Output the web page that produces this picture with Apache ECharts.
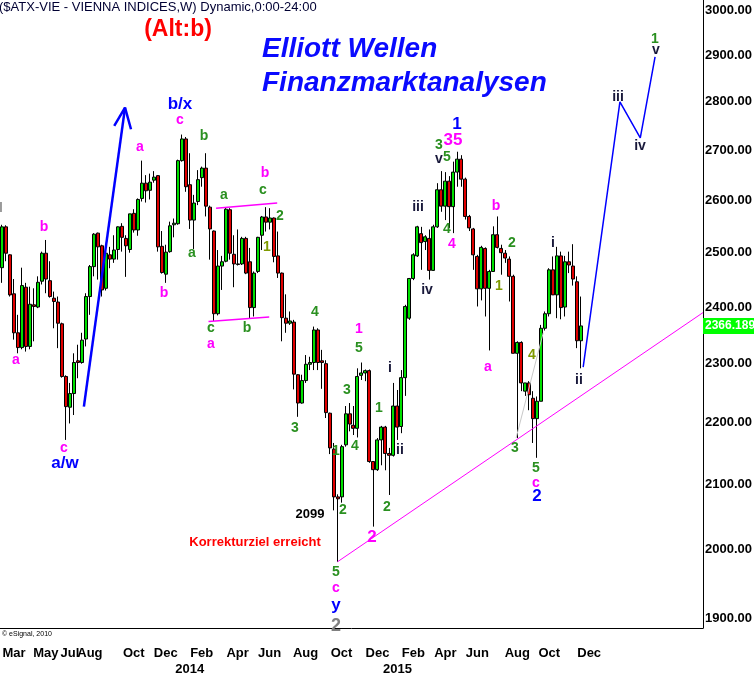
<!DOCTYPE html>
<html>
<head>
<meta charset="utf-8">
<script src="https://cdn.jsdelivr.net/npm/echarts@6/dist/echarts.min.js"></script>
<style>
  html, body { margin: 0; padding: 0; background: #fff; }
  #chart { width: 754px; height: 674px; }
</style>
</head>
<body>
<div id="chart"></div>
<script>
// weekly bars (Friday), first week 2013-02-15, blank weeks on the right for the projection
const weekCount = 176;
const firstWeek = new Date(Date.UTC(2013, 1, 15));
const weeks = [];
for (let i = 0; i < weekCount; i++) {
  const d = new Date(firstWeek.getTime() + i * 7 * 86400000);
  weeks.push(d.toISOString().slice(0, 10));
}

const opens = [
  2472, 2549, 2496, 2424, 2354, 2328, 2436, 2330, 2404, 2400, 2447, 2499, 2448, 2416, 2409, 2370,
  2278, 2226, 2249, 2305, 2302, 2343, 2419, 2474, 2537, 2513, 2434, 2496, 2488, 2506, 2550, 2527,
  2506, 2575, 2543, 2604, 2634, 2620, 2640, 2649, 2512, 2460, 2502, 2553, 2555, 2679, 2723, 2631,
  2562, 2598, 2645, 2664, 2587, 2541, 2388, 2475, 2484, 2582, 2497, 2479, 2479, 2527, 2483, 2399,
  2465, 2533, 2568, 2558, 2566, 2494, 2462, 2380, 2371, 2373, 2281, 2233, 2271, 2299, 2302, 2359,
  2305, 2300, 2216, 2157, 2081, 2081, 2164, 2215, 2196, 2191, 2280, 2284, 2288, 2137, 2124, 2172,
  2193, 2150, 2147, 2228, 2194, 2276, 2380, 2452, 2494, 2536, 2521, 2527, 2467, 2549, 2621, 2589,
  2638, 2588, 2656, 2682, 2642, 2569, 2545, 2493, 2433, 2508, 2434, 2465, 2534, 2508, 2499, 2488,
  2456, 2318, 2337, 2253, 2267, 2241, 2207, 2236, 2362, 2388, 2468, 2422, 2494, 2400, 2483, 2475,
  2446, 2340
];
const closes = [
  2549, 2499, 2422, 2354, 2328, 2439, 2330, 2405, 2401, 2445, 2499, 2451, 2419, 2410, 2371, 2278,
  2227, 2249, 2302, 2302, 2341, 2419, 2474, 2535, 2511, 2431, 2499, 2488, 2505, 2549, 2529, 2513,
  2574, 2543, 2602, 2634, 2619, 2636, 2646, 2511, 2463, 2501, 2551, 2556, 2679, 2723, 2627, 2562,
  2595, 2641, 2664, 2589, 2545, 2388, 2475, 2483, 2583, 2499, 2479, 2478, 2527, 2462, 2399, 2462,
  2529, 2568, 2558, 2566, 2493, 2462, 2381, 2371, 2375, 2282, 2233, 2271, 2299, 2302, 2359, 2302,
  2302, 2217, 2159, 2081, 2078, 2161, 2215, 2198, 2191, 2278, 2284, 2288, 2137, 2124, 2172, 2193,
  2150, 2147, 2228, 2193, 2276, 2401, 2452, 2496, 2549, 2519, 2530, 2467, 2549, 2621, 2589, 2638,
  2588, 2656, 2682, 2642, 2569, 2547, 2496, 2433, 2510, 2434, 2465, 2534, 2510, 2500, 2490, 2456,
  2318, 2337, 2267, 2267, 2247, 2207, 2236, 2362, 2388, 2468, 2422, 2494, 2399, 2483, 2477, 2451,
  2340, 2366.189
];
const lows = [
  2444, 2484, 2419, 2342, 2318, 2325, 2321, 2325, 2339, 2398, 2441, 2425, 2417, 2362, 2327, 2276,
  2172, 2199, 2213, 2275, 2300, 2330, 2386, 2456, 2450, 2419, 2430, 2471, 2481, 2487, 2502, 2455,
  2500, 2538, 2532, 2598, 2596, 2602, 2635, 2502, 2461, 2444, 2500, 2529, 2553, 2677, 2617, 2545,
  2507, 2591, 2627, 2569, 2487, 2375, 2385, 2431, 2482, 2487, 2436, 2476, 2477, 2460, 2379, 2383,
  2462, 2505, 2540, 2544, 2482, 2453, 2339, 2354, 2368, 2256, 2210, 2232, 2267, 2289, 2289, 2289,
  2257, 2208, 2149, 2060, 1982, 2072, 2161, 2186, 2180, 2176, 2272, 2270, 2135, 2035, 2122, 2131,
  2123, 2084, 2145, 2172, 2183, 2245, 2377, 2449, 2492, 2468, 2505, 2450, 2466, 2547, 2578, 2562,
  2547, 2537, 2627, 2627, 2563, 2541, 2468, 2401, 2412, 2383, 2323, 2465, 2508, 2459, 2481, 2410,
  2318, 2175, 2253, 2245, 2221, 2167, 2143, 2236, 2358, 2383, 2422, 2380, 2378, 2383, 2462, 2439,
  2327, 2292
];
const highs = [
  2553, 2552, 2497, 2451, 2386, 2472, 2444, 2437, 2434, 2456, 2502, 2524, 2484, 2428, 2419, 2372,
  2280, 2267, 2318, 2333, 2354, 2425, 2477, 2537, 2538, 2515, 2505, 2511, 2533, 2550, 2556, 2533,
  2574, 2583, 2604, 2679, 2650, 2653, 2658, 2650, 2541, 2515, 2559, 2565, 2681, 2732, 2727, 2694,
  2611, 2660, 2667, 2694, 2590, 2542, 2505, 2494, 2587, 2585, 2533, 2544, 2530, 2530, 2509, 2465,
  2530, 2570, 2587, 2585, 2567, 2540, 2463, 2423, 2392, 2377, 2282, 2281, 2315, 2312, 2365, 2362,
  2324, 2306, 2217, 2167, 2085, 2164, 2228, 2233, 2228, 2292, 2302, 2290, 2290, 2137, 2175, 2195,
  2195, 2159, 2267, 2255, 2289, 2404, 2453, 2499, 2551, 2549, 2533, 2544, 2553, 2634, 2658, 2656,
  2648, 2677, 2697, 2690, 2645, 2572, 2547, 2496, 2513, 2510, 2468, 2550, 2569, 2515, 2505, 2493,
  2459, 2339, 2339, 2267, 2270, 2253, 2244, 2368, 2392, 2471, 2493, 2511, 2502, 2494, 2502, 2516,
  2456, 2419
];

const priceTicks = [1900, 2000, 2100, 2200, 2300, 2400, 2500, 2600, 2700, 2800, 2900, 3000];
const monthTicks = [
  [3, 'Mar'], [11, 'May'], [17, 'Jul'], [22, 'Aug'], [33, 'Oct'], [41, 'Dec'], [50, 'Feb'],
  [59, 'Apr'], [67, 'Jun'], [76, 'Aug'], [85, 'Oct'], [94, 'Dec'], [103, 'Feb'], [111, 'Apr'],
  [119, 'Jun'], [129, 'Aug'], [137, 'Oct'], [147, 'Dec']
];
const yearTicks = [[47, '2014'], [99, '2015']];

// drawn lines, [week index, price]
const supportLine = [[84, 1982], [175.5, 2390]];
const projection = [[145.5, 2294], [154.7, 2800], [159.8, 2725], [163.5, 2896]];
const arrowShaft = [[20.5, 2227], [30.8, 2788]];
const arrowHead = [[28.1, 2750], [30.8, 2788], [32.3, 2743]];
const flagTop = [[53.6, 2585], [68.9, 2595]];
const flagBottom = [[51.7, 2374], [66.9, 2382]];
const greyLine = [[128.7, 2175], [135.5, 2354]];

const lastPrice = 2366.189;

const lg = v => Math.log10(v);
const monthMap = Object.fromEntries(monthTicks);
const yearMap = Object.fromEntries(yearTicks);

const candles = weeks.map((w, i) =>
  i < opens.length ? [lg(opens[i]), lg(closes[i]), lg(lows[i]), lg(highs[i])] : '-'
);
const toLog = pts => pts.map(p => [p[0], lg(p[1])]);

const FONT = 'Liberation Sans, Arial, sans-serif';

// wave labels
const M = '#ff00ff', G = '#2a9020', O = '#7f9a00', K = '#18183a', B = '#0000ff';
const waveLabels = [
  ['I', 1, 208, '#9a9a9a', 14],
  ['b', 44, 227, M, 14], ['a', 16, 360, M, 14], ['c', 64, 448, M, 14], ['a/w', 65, 463, B, 17],
  ['a', 140, 147, M, 14], ['b/x', 180, 104, B, 17], ['c', 180, 120, M, 14], ['b', 204, 136, G, 14],
  ['b', 164, 293, M, 14], ['a', 192, 253, G, 14], ['a', 224, 195, G, 14],
  ['b', 265, 173, M, 14], ['c', 263, 190, G, 14], ['2', 280, 216, G, 14], ['1', 267, 247, O, 14],
  ['c', 211, 328, G, 14], ['a', 211, 344, M, 14], ['b', 247, 328, G, 14],
  ['4', 315, 312, G, 14], ['3', 295, 428, G, 14], ['1', 359, 329, M, 14], ['5', 359, 348, G, 14],
  ['3', 347, 390, G, 14], ['4', 355, 446, G, 14], ['1', 336, 451, G, 14], ['2', 343, 510, G, 14],
  ['2099', 310, 514, '#000000', 13],
  ['1', 379, 408, G, 14], ['i', 390, 368, K, 14], ['ii', 400, 450, K, 14], ['2', 387, 507, G, 14],
  ['2', 372, 537, M, 17],
  ['iv', 427, 290, K, 14], ['iii', 418, 207, K, 14],
  ['3', 439, 145, G, 14], ['v', 439, 159, K, 14], ['5', 447, 157, G, 14], ['35', 453, 140, M, 17],
  ['1', 457, 124, B, 17], ['4', 447, 229, G, 14], ['4', 452, 244, M, 14],
  ['b', 496, 206, M, 14], ['2', 512, 243, G, 14], ['1', 499, 286, O, 14], ['a', 488, 367, M, 14],
  ['4', 532, 355, O, 14], ['3', 515, 448, G, 14], ['5', 536, 468, G, 14], ['c', 536, 483, M, 14],
  ['2', 537, 496, B, 17], ['i', 553, 243, K, 14], ['ii', 579, 380, K, 14],
  ['iii', 618, 97, K, 14], ['iv', 640, 146, K, 14], ['1', 655, 39, G, 14], ['v', 656, 50, K, 14],
  ['5', 336, 572, G, 14], ['c', 336, 588, M, 14], ['y', 336, 605, B, 17], ['2', 336, 626, '#808080', 18]
];

const graphics = waveLabels.map(l => ({
  type: 'text', x: l[1], y: l[2], z: 50,
  style: {
    text: l[0], fill: l[3], fontSize: l[4], fontWeight: 'bold', fontFamily: FONT,
    align: 'center', verticalAlign: 'middle'
  }
}));
graphics.push(
  { type: 'text', x: -1, y: 7, z: 50,
    style: { text: '($ATX-VIE - VIENNA INDICES,W) Dynamic,0:00-24:00', fill: '#000033',
      fontSize: 13, fontFamily: FONT, verticalAlign: 'middle' } },
  { type: 'text', x: 178, y: 30, z: 50,
    style: { text: '(Alt:b)', fill: '#ff0000', fontSize: 23, fontWeight: 'bold', fontFamily: FONT,
      align: 'center', verticalAlign: 'middle' } },
  { type: 'text', x: 262, y: 49, z: 50,
    style: { text: 'Elliott Wellen', fill: '#0a0aff', fontSize: 28, fontWeight: 'bold',
      fontStyle: 'italic', fontFamily: FONT, verticalAlign: 'middle' } },
  { type: 'text', x: 262, y: 83, z: 50,
    style: { text: 'Finanzmarktanalysen', fill: '#0a0aff', fontSize: 28, fontWeight: 'bold',
      fontStyle: 'italic', fontFamily: FONT, verticalAlign: 'middle' } },
  { type: 'text', x: 255, y: 542, z: 50,
    style: { text: 'Korrekturziel erreicht', fill: '#ff0000', fontSize: 13, fontWeight: 'bold',
      fontFamily: FONT, align: 'center', verticalAlign: 'middle' } },
  { type: 'text', x: 2, y: 634, z: 50,
    style: { text: '© eSignal, 2010', fill: '#000', fontSize: 7, fontFamily: FONT,
      verticalAlign: 'middle' } },
  { type: 'rect', x: 703, y: 318, z: 50, shape: { width: 51, height: 16 },
    style: { fill: '#00ff00' } },
  { type: 'text', x: 705, y: 326, z: 51,
    style: { text: lastPrice.toFixed(3), fill: '#ffffff', fontSize: 12, fontWeight: 'bold',
      fontFamily: FONT, verticalAlign: 'middle' } }
);

function overlay(pts, color, width) {
  return {
    type: 'line', xAxisIndex: 2, data: toLog(pts), symbol: 'none', silent: true,
    lineStyle: { color: color, width: width }, z: 10, animation: false
  };
}

const chart = echarts.init(document.getElementById('chart'));
chart.setOption({
  animation: false,
  backgroundColor: '#ffffff',
  grid: { left: 0, right: 51, top: 0, bottom: 46, outerBoundsMode: 'none', containLabel: false },
  xAxis: [
    {
      type: 'category', data: weeks, boundaryGap: true,
      axisLine: { onZero: false, lineStyle: { color: '#000', width: 1 } },
      axisTick: { show: false },
      splitLine: { show: false },
      axisLabel: {
        interval: idx => monthMap[idx] !== undefined,
        formatter: (v, idx) => monthMap[idx] || '',
        color: '#000', fontSize: 13, fontWeight: 'bold', fontFamily: FONT, margin: 19
      }
    },
    {
      type: 'category', data: weeks, boundaryGap: true, position: 'bottom', offset: 16,
      axisLine: { show: false }, axisTick: { show: false }, splitLine: { show: false },
      axisLabel: {
        interval: idx => yearMap[idx] !== undefined,
        formatter: (v, idx) => yearMap[idx] || '',
        color: '#000', fontSize: 13, fontWeight: 'bold', fontFamily: FONT, margin: 19
      }
    },
    { type: 'value', min: -0.5, max: weekCount - 0.5, show: false }
  ],
  yAxis: {
    type: 'value', position: 'right',
    min: lg(1885.8), max: lg(3022.6),
    axisLine: { show: true, onZero: false, lineStyle: { color: '#000', width: 1 } },
    axisTick: { show: false },
    splitLine: { show: false },
    axisLabel: {
      customValues: priceTicks.map(lg),
      formatter: v => Math.round(Math.pow(10, v)).toFixed(2),
      color: '#000', fontSize: 13, fontWeight: 'bold', fontFamily: FONT, margin: 2
    }
  },
  series: [
    {
      type: 'candlestick', xAxisIndex: 0, data: candles, barWidth: 3.5,
      itemStyle: {
        color: '#00e000', color0: '#e00000',
        borderColor: '#000000', borderColor0: '#000000', borderWidth: 1
      },
      z: 5
    },
    overlay(supportLine, '#ff00ff', 1),
    overlay(flagTop, '#ff00ff', 1.5),
    overlay(flagBottom, '#ff00ff', 1.5),
    overlay(greyLine, '#c8c8c8', 1),
    overlay(projection, '#0000ff', 1.5),
    overlay(arrowShaft, '#0000ff', 2.5),
    overlay(arrowHead, '#0000ff', 2.5)
  ],
  graphic: graphics
});
</script>
</body>
</html>
